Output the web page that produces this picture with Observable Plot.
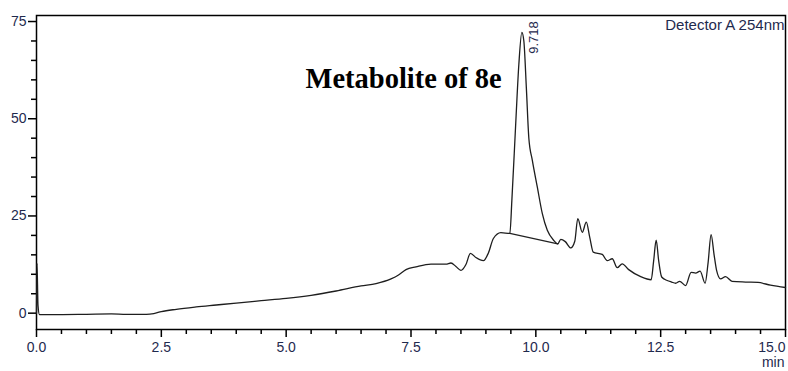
<!DOCTYPE html>
<html>
<head>
<meta charset="utf-8">
<script src="https://cdn.jsdelivr.net/npm/d3@7"></script>
<script src="https://cdn.jsdelivr.net/npm/@observablehq/plot@0.6"></script>
<style>
  html, body { margin: 0; padding: 0; background: #fff; }
</style>
</head>
<body>
<div id="chart"></div>
<script>
// Retention time (min) and detector signal (mAU)
const time = [0, 0.01, 0.03, 0.06, 0.3, 1.0, 1.5, 1.8, 2.2, 2.35, 2.5, 2.8, 3.2, 3.6, 4.0, 4.5, 5.0, 5.5, 6.0, 6.5, 6.8, 7.1, 7.25, 7.4, 7.6, 7.9, 8.2, 8.3, 8.4, 8.5, 8.6, 8.69, 8.8, 8.95, 9.05, 9.15, 9.3, 9.48, 9.52, 9.6, 9.66, 9.72, 9.76, 9.81, 9.86, 9.93, 10.03, 10.13, 10.23, 10.36, 10.44, 10.5, 10.59, 10.7, 10.78, 10.84, 10.93, 11.01, 11.08, 11.15, 11.33, 11.43, 11.53, 11.63, 11.73, 11.86, 12.1, 12.31, 12.36, 12.41, 12.46, 12.52, 12.63, 12.72, 12.8, 12.88, 13.0, 13.11, 13.2, 13.29, 13.39, 13.45, 13.51, 13.57, 13.62, 13.7, 13.8, 13.93, 14.2, 14.45, 14.7, 15.0];
const signal = [0, 12.8, 2, -0.4, -0.4, -0.3, -0.2, -0.3, -0.3, -0.1, 0.4, 1.0, 1.6, 2.1, 2.6, 3.2, 3.8, 4.6, 5.7, 7.0, 7.6, 8.8, 9.8, 11.2, 11.9, 12.6, 12.6, 12.9, 12.0, 11.0, 12.5, 15.4, 14.3, 13.5, 15.5, 19.2, 20.7, 20.5, 29, 49.5, 64, 72.2, 70, 58, 45, 39.3, 32.4, 25.6, 21.3, 18.7, 17.8, 19.0, 18.4, 16.8, 18.5, 24.3, 20.8, 23.4, 19.5, 15.7, 15.1, 13.5, 14.0, 11.7, 12.7, 11.2, 9.4, 8.6, 13.5, 18.8, 13.5, 9.3, 8.4, 8.0, 7.7, 8.2, 7.1, 10.5, 10.3, 10.8, 7.7, 13, 20.2, 15, 11.0, 8.8, 9.4, 8.2, 8.0, 7.9, 7.2, 6.6];

// Integration baseline drawn under the main peak
const baselineTime = [9.48, 10.44];
const baselineSignal = [20.5, 17.8];

// Peak annotation
const peakTime = [9.718];
const peakHeight = [72.2];
const peakLabel = ["9.718"];

// Tick values
const xTicks = [0, 2.5, 5, 7.5, 10, 12.5, 15];
const xLabelTicks = [0, 2.5, 5, 7.5, 10, 12.5];
const xLastTick = [15];
const xMinorTicks = [0.5, 1, 1.5, 2, 3, 3.5, 4, 4.5, 5.5, 6, 6.5, 7, 8, 8.5, 9, 9.5, 10.5, 11, 11.5, 12, 13, 13.5, 14, 14.5];
const yTicks = [0, 25, 50, 75];
const yMinorTicks = [5, 10, 15, 20, 30, 35, 40, 45, 55, 60, 65, 70];

// Texts
const detectorText = ["Detector A 254nm"];
const titleText = ["Metabolite of 8e"];
const xUnitText = ["min"];

const trace = time.map((t, i) => ({t, v: signal[i]}));
const baseline = baselineTime.map((t, i) => ({t, v: baselineSignal[i]}));
const peaks = peakTime.map((t, i) => ({t, v: peakHeight[i], label: peakLabel[i]}));

const labelColor = "#1f2a4e";
const sans = "'Liberation Sans', Arial, sans-serif";
const fmt = d3.format(".1f");

const chart = Plot.plot({
  width: 788,
  height: 371,
  marginLeft: 36,
  marginRight: 3,
  marginTop: 15,
  marginBottom: 42,
  x: {domain: [0, 15]},
  y: {domain: [-4.2, 76.55]},
  style: {fontFamily: sans, fontSize: "14px", background: "#fff", color: "#000"},
  marks: [
    // minor ticks (no text)
    Plot.axisX(xMinorTicks, {anchor: "bottom", tickSize: 5, fill: null, stroke: "#000", strokeWidth: 1.5, label: null}),
    Plot.axisY(yMinorTicks, {anchor: "left", tickSize: 5, fill: null, stroke: "#000", strokeWidth: 1.5, label: null}),
    // major ticks
    Plot.axisX(xTicks, {anchor: "bottom", tickSize: 8, fill: null, stroke: "#000", strokeWidth: 1.5, label: null}),
    // x labels
    Plot.axisX(xLabelTicks, {anchor: "bottom", tickSize: 0, tickPadding: 12.5, tickFormat: fmt, fill: labelColor, fontSize: 14, label: null}),
    Plot.axisX(xLastTick, {anchor: "bottom", tickSize: 0, tickPadding: 12.5, tickFormat: fmt, textAnchor: "end", fill: labelColor, fontSize: 14, label: null}),
    // y ticks + labels
    Plot.axisY(yTicks, {anchor: "left", tickSize: 8, tickPadding: 2, tickFormat: d3.format("d"), stroke: "#000", fill: labelColor, strokeWidth: 1.5, fontSize: 14, label: null}),
    Plot.frame({stroke: "#000", strokeWidth: 1.5}),
    Plot.line(baseline, {x: "t", y: "v", stroke: "#222", strokeWidth: 1.2}),
    Plot.line(trace, {x: "t", y: "v", stroke: "#1e1e1e", strokeWidth: 1.3, curve: "monotone-x"}),
    Plot.text(peaks, {x: "t", y: "v", text: "label", rotate: -90, textAnchor: "start", lineAnchor: "middle", dx: 11.6, dy: 21.4, fill: labelColor, fontSize: 13, fontFamily: sans}),
    Plot.text(detectorText, {text: d => d, frameAnchor: "top-right", textAnchor: "end", lineAnchor: "top", dx: -1, dy: 3.4, fill: labelColor, fontSize: 15, fontFamily: sans}),
    Plot.text(titleText, {text: d => d, frameAnchor: "top-left", textAnchor: "start", lineAnchor: "bottom", dx: 269, dy: 72, fill: "#000", fontSize: 28.5, fontWeight: "bold", fontFamily: "'Liberation Serif', 'Times New Roman', serif"}),
    Plot.text(xUnitText, {text: d => d, frameAnchor: "bottom-right", textAnchor: "end", lineAnchor: "bottom", dx: -1, dy: 37.7, fill: labelColor, fontSize: 14, fontFamily: sans})
  ]
});
document.getElementById("chart").appendChild(chart);
</script>
</body>
</html>
